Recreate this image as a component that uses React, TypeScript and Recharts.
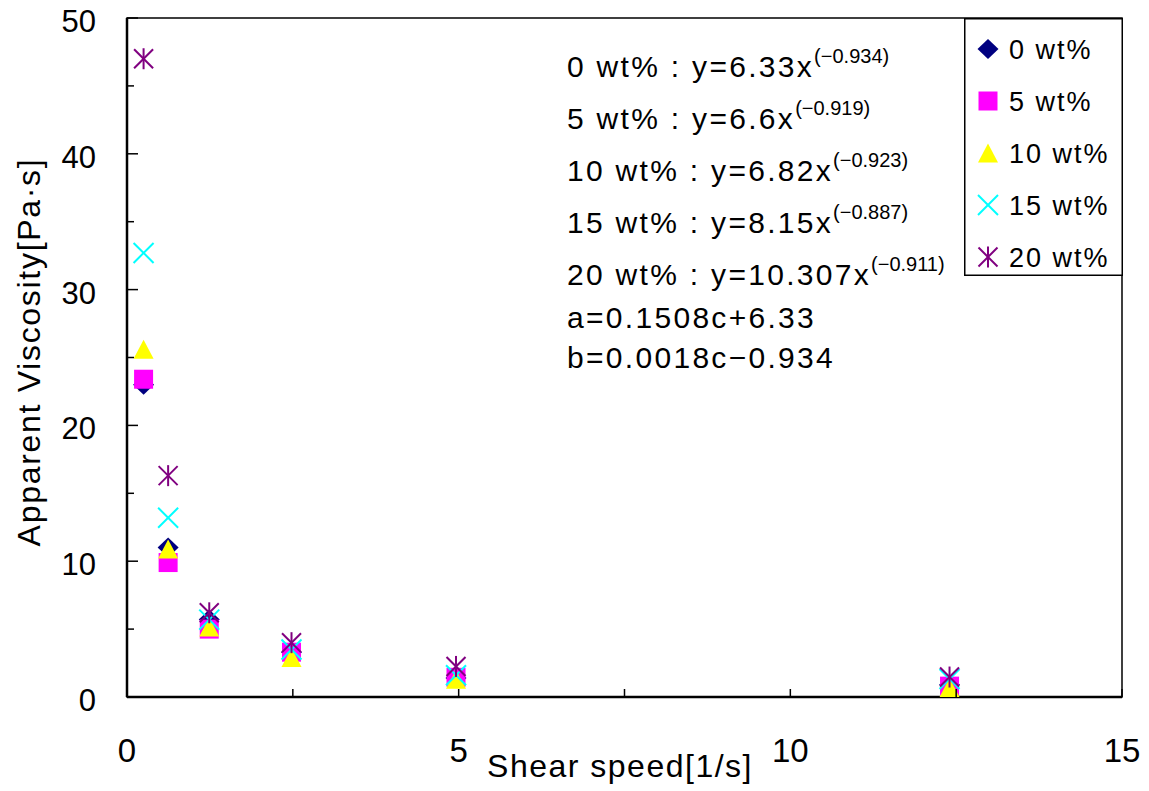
import React from 'react';
import { ScatterChart, Scatter, XAxis, YAxis, ReferenceArea, Legend, Customized } from 'recharts';

// shear speed [1/s] and apparent viscosity [Pa·s] per concentration
const shearSpeed = [0.25, 0.62, 1.24, 2.48, 4.96, 12.4];
const visc0 = [23.0, 11.0, 5.7, 3.3, 1.4, 0.9];
const visc5 = [23.4, 9.9, 5.0, 3.3, 1.45, 0.8];
const visc10 = [25.6, 10.9, 5.15, 2.9, 1.3, 0.7];
const visc15 = [32.7, 13.2, 5.7, 3.5, 1.6, 1.33];
const visc20 = [47.0, 16.3, 6.2, 4.0, 2.25, 1.47];

const seriesNames = ['0 wt%', '5 wt%', '10 wt%', '15 wt%', '20 wt%'];
const fitLines = [
  { label: '0 wt% : y=6.33x', exp: '(−0.934)' },
  { label: '5 wt% : y=6.6x', exp: '(−0.919)' },
  { label: '10 wt% : y=6.82x', exp: '(−0.923)' },
  { label: '15 wt% : y=8.15x', exp: '(−0.887)' },
  { label: '20 wt% : y=10.307x', exp: '(−0.911)' },
];
const coefLines = ['a=0.1508c+6.33', 'b=0.0018c−0.934'];

const xTicks = [0, 2.5, 5, 7.5, 10, 12.5, 15];
const yTicks = [0, 5, 10, 15, 20, 25, 30, 35, 40, 45, 50];

const W = 1149;
const H = 791;
const PLOT_LEFT = 127;
const PLOT_BOTTOM = 697;
const FONT = '"Liberation Sans", Arial, sans-serif';

type Kind = 'diamond' | 'square' | 'triangle' | 'x' | 'star';
const kinds: Kind[] = ['diamond', 'square', 'triangle', 'x', 'star'];
const colors = ['#000080', '#FF00FF', '#FFFF00', '#00FFFF', '#800080'];
const allVisc = [visc0, visc5, visc10, visc15, visc20];

const series = seriesNames.map((name, i) => ({
  name,
  kind: kinds[i],
  color: colors[i],
  data: shearSpeed.map((x, j) => ({ x, y: allVisc[i][j] })),
}));

const Marker = ({ kind, cx, cy, color }: { kind: Kind; cx: number; cy: number; color: string }) => {
  if (cx == null || cy == null) return null;
  switch (kind) {
    case 'diamond':
      return <polygon points={`${cx},${cy - 10} ${cx + 10.5},${cy} ${cx},${cy + 10} ${cx - 10.5},${cy}`} fill={color} />;
    case 'square':
      return <rect x={cx - 9.5} y={cy - 9.5} width={19} height={19} fill={color} />;
    case 'triangle':
      return <polygon points={`${cx},${cy - 9.5} ${cx + 10},${cy + 9.5} ${cx - 10},${cy + 9.5}`} fill={color} />;
    case 'x':
      return (
        <g stroke={color} strokeWidth={2}>
          <line x1={cx - 10} y1={cy - 10} x2={cx + 10} y2={cy + 10} />
          <line x1={cx - 10} y1={cy + 10} x2={cx + 10} y2={cy - 10} />
        </g>
      );
    default:
      return (
        <g stroke={color} strokeWidth={2}>
          <line x1={cx - 9.5} y1={cy - 9.5} x2={cx + 9.5} y2={cy + 9.5} />
          <line x1={cx - 9.5} y1={cy + 9.5} x2={cx + 9.5} y2={cy - 9.5} />
          <line x1={cx} y1={cy - 10.5} x2={cx} y2={cy + 10.5} />
        </g>
      );
  }
};

const YTick = ({ y, payload }: any) => {
  const v = payload.value;
  const major = v % 10 === 0;
  return (
    <g>
      <line x1={PLOT_LEFT} y1={y} x2={PLOT_LEFT + (major ? 11 : 7)} y2={y} stroke="#000" strokeWidth={1.5} />
      {major && (
        <text x={96} y={y + 14} textAnchor="end" fontFamily={FONT} fontSize={31} fill="#000">
          {v}
        </text>
      )}
    </g>
  );
};

const XTick = ({ x, payload }: any) => {
  const v = payload.value;
  const major = v % 5 === 0;
  return (
    <g>
      <line x1={x} y1={PLOT_BOTTOM} x2={x} y2={PLOT_BOTTOM - 8} stroke="#000" strokeWidth={1.5} />
      {major && (
        <text x={x} y={762} textAnchor="middle" fontFamily={FONT} fontSize={33} fill="#000">
          {v}
        </text>
      )}
    </g>
  );
};

const LegendBox = () => (
  <svg width={159} height={258} style={{ display: 'block' }}>
    <rect x={0.75} y={0.75} width={157.5} height={256.5} fill="#fff" stroke="#000" strokeWidth={1.5} />
    {series.map((s, i) => {
      const cy = 31 + i * 52;
      return (
        <g key={s.name}>
          <Marker kind={s.kind} cx={24} cy={cy} color={s.color} />
          <text x={45} y={cy + 10} fontFamily={FONT} fontSize={27} letterSpacing={2} fill="#000">
            {s.name}
          </text>
        </g>
      );
    })}
  </svg>
);

const Annotations = () => (
  <g fontFamily={FONT} fill="#000">
    {fitLines.map((l, i) => (
      <text key={l.label} x={567} y={77 + i * 52} fontSize={30} letterSpacing={2.3}>
        {l.label}
        <tspan dy={-14} fontSize={20} letterSpacing={0}>
          {l.exp}
        </tspan>
      </text>
    ))}
    {coefLines.map((t, i) => (
      <text key={t} x={567} y={328 + i * 40} fontSize={30} letterSpacing={2.3}>
        {t}
      </text>
    ))}
  </g>
);

const App: React.FC = () => {
  return (
    <div style={{ position: 'absolute', left: 0, top: 0, background: '#fff' }}>
      <ScatterChart width={W} height={H} margin={{ top: 18, right: 27, left: 0, bottom: 0 }}>
        <XAxis
          type="number"
          dataKey="x"
          domain={[0, 15]}
          ticks={xTicks}
          interval={0}
          allowDataOverflow
          height={94}
          tickLine={false}
          axisLine={{ stroke: '#000', strokeWidth: 2.5 }}
          tick={<XTick />}
          label={() => (
            <text x={620} y={777} textAnchor="middle" fontFamily={FONT} fontSize={32} letterSpacing={1.5} fill="#000">
              Shear speed[1/s]
            </text>
          )}
        />
        <YAxis
          type="number"
          dataKey="y"
          domain={[0, 50]}
          ticks={yTicks}
          interval={0}
          allowDataOverflow
          width={127}
          tickLine={false}
          axisLine={{ stroke: '#000', strokeWidth: 2.5 }}
          tick={<YTick />}
          label={() => (
            <text
              x={40}
              y={352}
              transform="rotate(-90 40 352)"
              textAnchor="middle"
              fontFamily={FONT}
              fontSize={32}
              letterSpacing={1.7}
              fill="#000"
            >
              Apparent Viscosity[Pa·s]
            </text>
          )}
        />
        <ReferenceArea x1={0} x2={15} y1={0} y2={50} fill="none" stroke="#000" strokeWidth={1.5} />
        {series.map((s) => (
          <Scatter
            key={s.name}
            name={s.name}
            data={s.data}
            fill={s.color}
            isAnimationActive={false}
            shape={(p: any) => <Marker kind={s.kind} cx={p.cx} cy={p.cy} color={s.color} />}
          />
        ))}
        <Customized component={Annotations} />
        <Legend
          layout="vertical"
          align="center"
          verticalAlign="middle"
          content={<LegendBox />}
          wrapperStyle={{ left: 964, top: 18, width: 159, height: 258 }}
        />
      </ScatterChart>
    </div>
  );
};

export default App;
